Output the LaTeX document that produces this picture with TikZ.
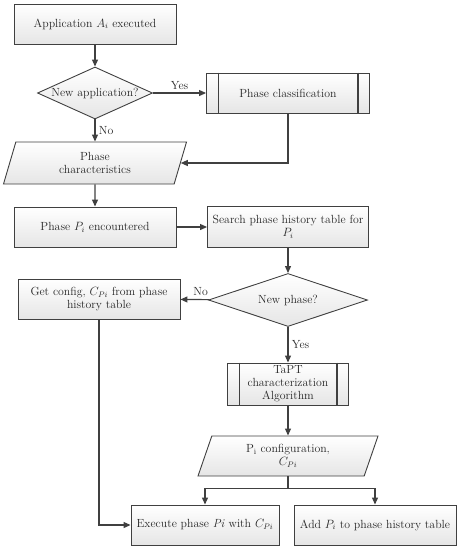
\documentclass[tikz,border=0pt]{standalone}
\usetikzlibrary{shapes.geometric,arrows.meta,positioning}
\begin{document}
\begin{tikzpicture}[x=1pt,y=-1pt]
    \tikzstyle{every node}=[font=\fontsize{11.8}{13}\selectfont, text=black!85]
    \tikzstyle{box}=[draw=black!75, line width=0.9pt, top color=white, bottom color=black!10, align=center, inner sep=2pt]
    \tikzstyle{arr}=[draw=black!75, line width=1.1pt, -{Triangle[length=7pt,width=6pt]}]
    \tikzstyle{line}=[draw=black!75, line width=1.1pt]
    \def\bw{162pt}
    \def\bh{40pt}
    \useasboundingbox (0,0) rectangle (460,550);
    % left column
    \node[box, minimum width=\bw, minimum height=\bh] (app) at (95,24) {Application $A_i$ executed};
    \node[box, diamond, aspect=2.2, inner sep=0pt, minimum width=115pt, minimum height=52pt] (newapp) at (95,93) {New application?};
    \node[box, minimum width=163pt, minimum height=\bh] (phasecls) at (288,93) {Phase classification};
    \draw[line] ([xshift=12pt]phasecls.north west) -- ([xshift=12pt]phasecls.south west);
    \draw[line] ([xshift=-12pt]phasecls.north east) -- ([xshift=-12pt]phasecls.south east);
    \node[box, trapezium, trapezium left angle=64, trapezium right angle=116, trapezium stretches body, minimum width=183pt, minimum height=42pt] (phasechar) at (95,163) {Phase\\characteristics};
    \node[box, minimum width=\bw, minimum height=\bh] (encnt) at (95,227) {Phase $P_i$ encountered};
    \node[box, minimum width=161pt, minimum height=41pt] (search) at (288,227) {Search phase history table for\\$P_i$};
    \node[box, diamond, aspect=3, inner sep=0pt, minimum width=159pt, minimum height=53pt] (newph) at (288,300) {New phase?};
    \node[box, minimum width=\bw, minimum height=\bh] (getcfg) at (99,299) {Get config, $C_{Pi}$ from phase\\history table};
    \node[box, inner sep=0pt, font=\fontsize{11.8}{13}\selectfont, minimum width=121pt, minimum height=42pt] (tapt) at (288,384) {TaPT\\characterization\\Algorithm};
    \draw[line] ([xshift=12pt]tapt.north west) -- ([xshift=12pt]tapt.south west);
    \draw[line] ([xshift=-12pt]tapt.north east) -- ([xshift=-12pt]tapt.south east);
    \node[box, trapezium, trapezium left angle=63, trapezium right angle=117, trapezium stretches body, minimum width=180pt, minimum height=40pt] (pconf) at (288,456) {P$_\mathrm{i}$ configuration,\\$C_{Pi}$};
    \node[box, minimum width=148pt, minimum height=\bh] (exec) at (205,525) {Execute phase \textit{Pi} with $C_{Pi}$};
    \node[box, minimum width=\bw, minimum height=\bh] (addp) at (375,525) {Add $P_i$ to phase history table};
    \coordinate[below=12pt of pconf] (fork);
    % connectors
    \draw[arr] (app) -- (newapp);
    \draw[arr] (newapp) -- node[above] {Yes} (phasecls);
    \draw[arr] (newapp) -- node[right] {No} (phasechar);
    \draw[arr] (phasecls.south) |- (phasechar.east);
    \draw[arr] (phasechar) -- (encnt);
    \draw[arr] (encnt) -- (search);
    \draw[arr] (search) -- (newph);
    \draw[arr] (newph) -- node[above, pos=0.3] {No} (getcfg);
    \draw[arr] (newph) -- node[right] {Yes} (tapt);
    \draw[arr] (tapt) -- (pconf);
    \draw[line] (pconf.south) -- (fork);
    \draw[arr] (fork) -| (exec.north);
    \draw[arr] (fork) -| (addp.north);
    \draw[arr] (getcfg.south) |- (exec.west);
\end{tikzpicture}
\end{document}
